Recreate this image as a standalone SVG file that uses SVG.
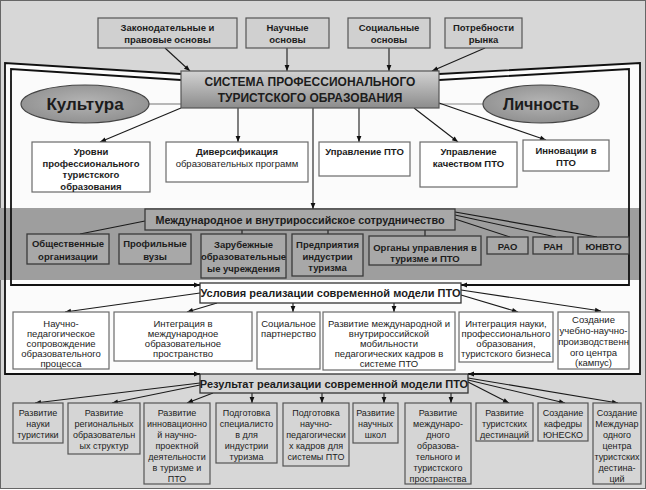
<svg xmlns="http://www.w3.org/2000/svg" width="646" height="490" viewBox="0 0 646 490">
<defs>
<style>
text{font-family:"Liberation Sans",Arial,sans-serif;fill:#1c1c1c;text-anchor:middle}
.b{font-weight:bold}
.f9{font-size:9px}
.f95{font-size:9.5px}
.f10{font-size:10px}
.f11{font-size:11px}
.f12{font-size:12px}
.wb{fill:#ffffff;stroke:#6a6a6a;stroke-width:1.2}
.gb{fill:#d0d0d0;stroke:#555;stroke-width:1.2}
.cb{fill:#a8a8a8;stroke:#3a3a3a;stroke-width:1.3}
.rb{fill:#d5d5d5;stroke:#555;stroke-width:1.2}
.ln{fill:none;stroke:#1a1a1a;stroke-width:1.1}
.gl{fill:none;stroke:#8a8a8a;stroke-width:1.2}
.fr{fill:none;stroke:#111;stroke-width:1.8}
.ar{marker-end:url(#ah)}
</style>
<marker id="ah" viewBox="0 0 10 10" refX="10" refY="5" markerWidth="7" markerHeight="6" markerUnits="userSpaceOnUse" orient="auto"><path d="M0,1 L10,5 L0,9 z" fill="#111"/></marker>
<linearGradient id="gs" x1="0" y1="0" x2="0" y2="1"><stop offset="0" stop-color="#d2d2d2"/><stop offset="1" stop-color="#8c8c8c"/></linearGradient>
<radialGradient id="ge" cx="0.5" cy="0.45" r="0.6"><stop offset="0" stop-color="#b4b4b4"/><stop offset="1" stop-color="#8e8e8e"/></radialGradient>
</defs>

<rect x="0.5" y="0.5" width="645" height="488" fill="#d7d7d7" stroke="#666"/>
<polygon points="5,63 181,73 439,73 640,63 640,374 5,374" fill="#fbfbfb"/>
<rect x="0" y="208" width="640" height="72" fill="#9e9e9e"/>

<g id="connectors">
<path class="fr" d="M181,74 L5,63 L5,374 L200,374"/>
<path class="fr ar" d="M120,374 L200,374"/>
<path class="fr" d="M439,74 L640,63 L640,374 L468,374"/>
<path class="fr ar" d="M540,374 L468,374"/>
<path class="fr" d="M181,80 L11,69 L11,285 L200,285"/>
<path class="fr ar" d="M120,285 L200,285"/>
<path class="fr" d="M439,80 L629,69 L629,285 L461,285"/>
<path class="fr ar" d="M540,285 L461,285"/>
<path class="ln ar" d="M165,48 L190,71"/>
<path class="ln ar" d="M287,48 L287,71"/>
<path class="ln ar" d="M389,48 L389,71"/>
<path class="ln ar" d="M485,48 L432,71"/>
<path class="gl" d="M149,104 L181,104"/>
<path class="gl" d="M439,104 L483,104"/>
<path class="ln ar" d="M181,108 L100,142"/>
<path class="ln ar" d="M238,108 L238,142"/>
<path class="ln ar" d="M359,108 L359,142"/>
<path class="ln ar" d="M414,108 L458,142"/>
<path class="ln ar" d="M439,103 L546,140"/>
<path class="ln ar" d="M313,108 L313,209"/>
<path class="ln" d="M145,221 L80,234"/>
<path class="ln" d="M242,230 L242,234 M328,230 L328,234 M425,230 L425,236"/>
<path class="ln" d="M455,212 L597,237 M455,215 L556,237 M455,219 L510,237"/>
<path class="ln ar" d="M200,293 L65,312"/>
<path class="ln ar" d="M217,303 L187,312"/>
<path class="ln ar" d="M293,303 L293,312"/>
<path class="ln ar" d="M394,303 L394,312"/>
<path class="ln ar" d="M461,295 L518,312"/>
<path class="ln ar" d="M461,290 L601,311"/>
<path class="ln ar" d="M200,383 L35,403"/>
<path class="ln ar" d="M200,385 L112,403"/>
<path class="ln ar" d="M213,393 L187,403"/>
<path class="ln ar" d="M252,393 L252,403"/>
<path class="ln ar" d="M322,393 L322,403"/>
<path class="ln ar" d="M384,393 L384,403"/>
<path class="ln ar" d="M451,393 L451,403"/>
<path class="ln ar" d="M468,382 L509,403"/>
<path class="ln ar" d="M468,380 L565,403"/>
<path class="ln ar" d="M468,378 L618,403"/>
</g>

<g id="top1"><rect class="gb" x="98" y="18" width="139" height="30"/><text class="b f95" x="167.5" y="31">Законодательные и</text><text class="b f95" x="167.5" y="43">правовые основы</text></g>
<g id="top2"><rect class="gb" x="246" y="18" width="83" height="30"/><text class="b f95" x="287.5" y="31">Научные</text><text class="b f95" x="287.5" y="43">основы</text></g>
<g id="top3"><rect class="gb" x="348" y="18" width="82" height="30"/><text class="b f95" x="389" y="31">Социальные</text><text class="b f95" x="389" y="43">основы</text></g>
<g id="top4"><rect class="gb" x="445" y="18" width="77" height="30"/><text class="b f95" x="483.5" y="31">Потребности</text><text class="b f95" x="483.5" y="43">рынка</text></g>

<g id="system"><rect x="181" y="71" width="258" height="37" fill="url(#gs)" stroke="#555" stroke-width="1.2"/><text class="b f12" x="310" y="86">СИСТЕМА ПРОФЕССИОНАЛЬНОГО</text><text class="b f12" x="310" y="102">ТУРИСТСКОГО ОБРАЗОВАНИЯ</text></g>
<g id="culture"><ellipse cx="85" cy="104" rx="64" ry="19" fill="url(#ge)" stroke="#444" stroke-width="1.2"/><text class="b" x="85" y="110" style="font-size:17px">Культура</text></g>
<g id="person"><ellipse cx="541" cy="104" rx="58" ry="19" fill="url(#ge)" stroke="#444" stroke-width="1.2"/><text class="b" x="541" y="110" style="font-size:16px">Личность</text></g>

<g id="m1"><rect class="wb" x="32" y="142" width="118" height="50"/><text class="b f95" x="91" y="155">Уровни</text><text class="b f95" x="91" y="166.5">профессионального</text><text class="b f95" x="91" y="178">туристского</text><text class="b f95" x="91" y="189.5">образования</text></g>
<g id="m2"><rect class="wb" x="166" y="142" width="142" height="40"/><text class="b f95" x="237" y="155">Диверсификация</text><text class="f95" x="237" y="166.5">образовательных программ</text></g>
<g id="m3"><rect class="wb" x="319" y="142" width="91" height="34"/><text class="b f95" x="364.5" y="155">Управление ПТО</text></g>
<g id="m4"><rect class="wb" x="420" y="142" width="97" height="45"/><text class="b f95" x="468.5" y="155">Управление</text><text class="b f95" x="468.5" y="166.5">качеством ПТО</text></g>
<g id="m5"><rect class="wb" x="523" y="140" width="86" height="31"/><text class="b f95" x="566" y="154">Инновации в</text><text class="b f95" x="566" y="165.5">ПТО</text></g>

<g id="coop"><rect class="cb" x="145" y="209" width="310" height="21" fill="#b2b2b2"/><text class="b" x="300" y="223.5" style="font-size:10.8px">Международное и внутрироссийское сотрудничество</text></g>
<g id="c1"><rect class="cb" x="27" y="234" width="82" height="30"/><text class="b f95" x="68" y="247">Общественные</text><text class="b f95" x="68" y="259.5">организации</text></g>
<g id="c2"><rect class="cb" x="119" y="234" width="72" height="30"/><text class="b f95" x="155" y="247">Профильные</text><text class="b f95" x="155" y="259.5">вузы</text></g>
<g id="c3"><rect class="cb" x="201" y="234" width="85" height="44"/><text class="b f95" x="243.5" y="247.5">Зарубежные</text><text class="b f95" x="243.5" y="259.5">образовательные</text><text class="b f95" x="243.5" y="271.5">ые учреждения</text></g>
<g id="c4"><rect class="cb" x="292" y="234" width="71" height="42"/><text class="b f95" x="327.5" y="247.5">Предприятия</text><text class="b f95" x="327.5" y="259.5">индустрии</text><text class="b f95" x="327.5" y="271">туризма</text></g>
<g id="c5"><rect class="cb" x="369" y="236" width="112" height="29"/><text class="b f95" x="425" y="250.5">Органы управления в</text><text class="b f95" x="425" y="261.5">туризме и ПТО</text></g>
<g id="c6"><rect class="cb" x="487" y="237" width="41" height="17"/><text class="b f95" x="507.5" y="249.5">РАО</text></g>
<g id="c7"><rect class="cb" x="533" y="237" width="40" height="17"/><text class="b f95" x="553" y="249.5">РАН</text></g>
<g id="c8"><rect class="cb" x="578" y="237" width="51" height="17"/><text class="b f95" x="603.5" y="249.5">ЮНВТО</text></g>

<g id="cond"><rect x="200" y="283" width="261" height="20" fill="#fff" stroke="#333" stroke-width="1.3"/><text class="b f11" x="330.5" y="297">Условия реализации современной модели ПТО</text></g>
<g id="k1"><rect class="wb" x="13" y="312" width="96" height="57"/><text class="f95" x="61" y="326.5">Научно-</text><text class="f95" x="61" y="336.5">педагогическое</text><text class="f95" x="61" y="346.5">сопровождение</text><text class="f95" x="61" y="356.5">образовательного</text><text class="f95" x="61" y="366.5">процесса</text></g>
<g id="k2"><rect class="wb" x="114" y="312" width="138" height="49"/><text class="f95" x="183" y="326.5">Интеграция в</text><text class="f95" x="183" y="336.5">международное</text><text class="f95" x="183" y="346.5">образовательное</text><text class="f95" x="183" y="357">пространство</text></g>
<g id="k3"><rect class="wb" x="257" y="312" width="63" height="57"/><text class="f95" x="288.5" y="326.5">Социальное</text><text class="f95" x="288.5" y="336.5">партнерство</text></g>
<g id="k4"><rect class="wb" x="323" y="312" width="132" height="58"/><text class="f95" x="389" y="326.5">Развитие международной и</text><text class="f95" x="389" y="336.5">внутрироссийской</text><text class="f95" x="389" y="346.5">мобильности</text><text class="f95" x="389" y="357">педагогических кадров в</text><text class="f95" x="389" y="367">системе ПТО</text></g>
<g id="k5"><rect class="wb" x="459" y="312" width="94" height="50"/><text class="f95" x="506" y="326.5">Интеграция науки,</text><text class="f95" x="506" y="336.5">профессионального</text><text class="f95" x="506" y="346.5">образования,</text><text class="f95" x="506" y="357">туристского бизнеса</text></g>
<g id="k6"><rect class="wb" x="558" y="312" width="71" height="57"/><text class="f95" x="593.5" y="322.5">Создание</text><text class="f95" x="593.5" y="333.5">учебно-научно-</text><text class="f95" x="593.5" y="345">производственн</text><text class="f95" x="593.5" y="355.5">ого центра</text><text class="f95" x="593.5" y="365.5">(кампус)</text></g>

<g id="result"><rect x="200" y="374" width="268" height="19" fill="#d5d5d5" stroke="#333" stroke-width="1.3"/><text class="b f11" x="334" y="387.5">Результат реализации современной модели ПТО</text></g>
<g id="r1"><rect class="rb" x="13" y="403" width="50" height="40"/><text class="f9" x="38" y="416">Развитие</text><text class="f9" x="38" y="427">науки</text><text class="f9" x="38" y="438">туристики</text></g>
<g id="r2"><rect class="rb" x="68" y="403" width="72" height="51"/><text class="f9" x="104" y="416">Развитие</text><text class="f9" x="104" y="427">региональных</text><text class="f9" x="104" y="438">образовательн</text><text class="f9" x="104" y="449">ых структур</text></g>
<g id="r3"><rect class="rb" x="144" y="403" width="66" height="81"/><text class="f9" x="177" y="416">Развитие</text><text class="f9" x="177" y="427">инновационно</text><text class="f9" x="177" y="438">й научно-</text><text class="f9" x="177" y="449">проектной</text><text class="f9" x="177" y="460">деятельности</text><text class="f9" x="177" y="471">в туризме и</text><text class="f9" x="177" y="482">ПТО</text></g>
<g id="r4"><rect class="rb" x="216" y="403" width="61" height="60"/><text class="f9" x="246.5" y="416">Подготовка</text><text class="f9" x="246.5" y="427">специалисто</text><text class="f9" x="246.5" y="438">в для</text><text class="f9" x="246.5" y="449">индустрии</text><text class="f9" x="246.5" y="460">туризма</text></g>
<g id="r5"><rect class="rb" x="283" y="403" width="66" height="63"/><text class="f9" x="316" y="416">Подготовка</text><text class="f9" x="316" y="427">научно-</text><text class="f9" x="316" y="438">педагогически</text><text class="f9" x="316" y="449">х кадров для</text><text class="f9" x="316" y="460">системы ПТО</text></g>
<g id="r6"><rect class="rb" x="353" y="403" width="45" height="40"/><text class="f9" x="375.5" y="416">Развитие</text><text class="f9" x="375.5" y="427">научных</text><text class="f9" x="375.5" y="438">школ</text></g>
<g id="r7"><rect class="rb" x="405" y="403" width="66" height="81"/><text class="f9" x="438" y="416">Развитие</text><text class="f9" x="438" y="427">междунаро-</text><text class="f9" x="438" y="438">дного</text><text class="f9" x="438" y="449">образова-</text><text class="f9" x="438" y="460">тельного и</text><text class="f9" x="438" y="471">туристского</text><text class="f9" x="438" y="482">пространства</text></g>
<g id="r8"><rect class="rb" x="476" y="403" width="57" height="38"/><text class="f9" x="504.5" y="416">Развитие</text><text class="f9" x="504.5" y="427">туристских</text><text class="f9" x="504.5" y="438">дестинаций</text></g>
<g id="r9"><rect class="rb" x="538" y="403" width="50" height="38"/><text class="f9" x="563" y="416">Создание</text><text class="f9" x="563" y="427">кафедры</text><text class="f9" x="563" y="438">ЮНЕСКО</text></g>
<g id="r10"><rect class="rb" x="593" y="403" width="48" height="81"/><text class="f9" x="617" y="416">Создание</text><text class="f9" x="617" y="427">Междунар</text><text class="f9" x="617" y="438">одного</text><text class="f9" x="617" y="449">центра</text><text class="f9" x="617" y="460">туристских</text><text class="f9" x="617" y="471">дестина-</text><text class="f9" x="617" y="482">ций</text></g>
</svg>
